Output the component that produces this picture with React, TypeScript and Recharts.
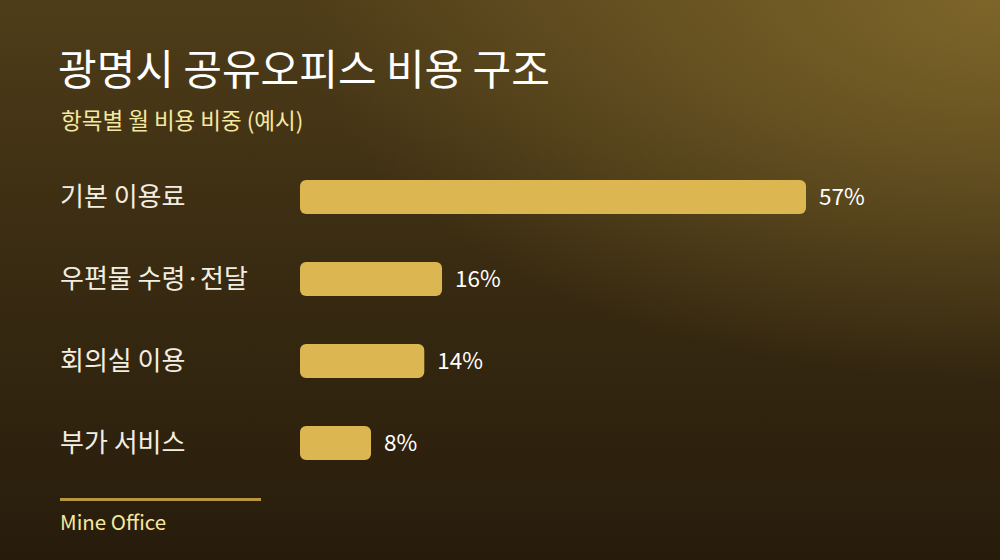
import { BarChart, Bar, XAxis, YAxis, LabelList } from 'recharts';

const categories = ['기본 이용료', '우편물 수령·전달', '회의실 이용', '부가 서비스'];
const shares = [57, 16, 14, 8];

const data = categories.map((name, i) => ({ name, share: shares[i] }));

const FONT = '"Noto Sans CJK KR", "Noto Sans", sans-serif';

function CategoryTick(props: any) {
  const { y, payload } = props;
  return (
    <text
      x={60}
      y={y - 3}
      textAnchor="start"
      dominantBaseline="central"
      fill="#f3eee2"
      fontSize={26}
      fontFamily={FONT}
    >
      {payload.value}
    </text>
  );
}

export default function App() {
  return (
    <div
      style={{
        position: 'absolute',
        left: 0,
        top: 0,
        width: 1000,
        height: 560,
        overflow: 'hidden',
        fontFamily: FONT,
        background:
          'radial-gradient(ellipse 700px 380px at 100% 0%, rgba(128,104,42,0.95) 0%, rgba(128,104,42,0) 100%), linear-gradient(180deg, #4f3d19 0%, #3a2c12 45%, #271c0c 100%)',
      }}
    >
      <div
        style={{
          position: 'absolute',
          left: 58,
          top: 46,
          fontSize: 42,
          lineHeight: 1,
          color: '#ffffff',
          fontWeight: 400,
          whiteSpace: 'nowrap',
        }}
      >
        광명시 공유오피스 비용 구조
      </div>
      <div
        style={{
          position: 'absolute',
          left: 61,
          top: 108,
          fontSize: 22.5,
          lineHeight: 1,
          color: '#f5e8a0',
          whiteSpace: 'nowrap',
        }}
      >
        항목별 월 비용 비중 (예시)
      </div>

      <div style={{ position: 'absolute', left: 0, top: 0 }}>
        <BarChart
          width={1000}
          height={560}
          data={data}
          layout="vertical"
          margin={{ top: 156, right: 194, bottom: 76, left: 0 }}
        >
          <XAxis type="number" domain={[0, 57]} hide />
          <YAxis
            type="category"
            dataKey="name"
            width={300}
            axisLine={false}
            tickLine={false}
            tick={<CategoryTick />}
          />
          <Bar
            dataKey="share"
            fill="#dcb650"
            barSize={34}
            radius={6}
            isAnimationActive={false}
          >
            <LabelList
              dataKey="share"
              position="right"
              offset={13}
              formatter={(v: any) => `${v}%`}
              fill="#ffffff"
              fontSize={22.5}
              fontFamily={FONT}
            />
          </Bar>
        </BarChart>
      </div>

      <div
        style={{
          position: 'absolute',
          left: 60,
          top: 498,
          width: 201,
          height: 3,
          background: '#b8953f',
        }}
      />
      <div
        style={{
          position: 'absolute',
          left: 60,
          top: 511,
          fontSize: 20.5,
          lineHeight: 1,
          color: '#f5e8a0',
          whiteSpace: 'nowrap',
        }}
      >
        Mine Office
      </div>
    </div>
  );
}
